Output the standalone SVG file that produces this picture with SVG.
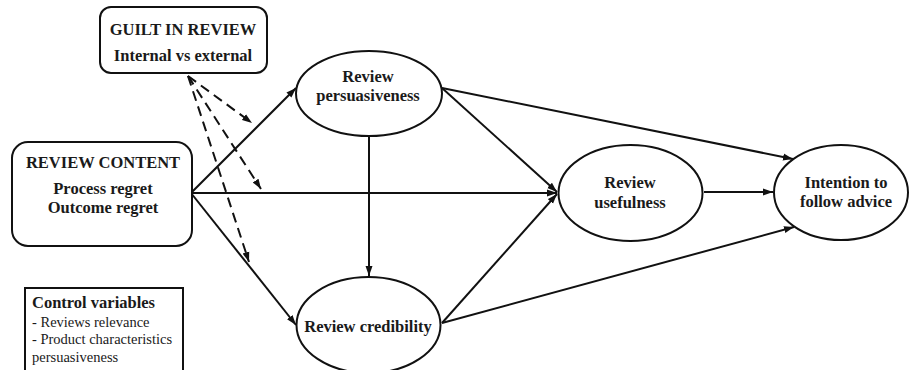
<svg xmlns="http://www.w3.org/2000/svg" width="909" height="370" viewBox="0 0 909 370">
<style>
.box{fill:#fff;stroke:#111;stroke-width:2}
.ell{fill:#fff;stroke:#111;stroke-width:2}
.t{font-family:"Liberation Serif","Times New Roman",serif;font-weight:bold;font-size:16.5px;fill:#1a1a1a;text-anchor:middle}
.r{font-family:"Liberation Serif","Times New Roman",serif;font-size:14.5px;fill:#1a1a1a}
.b{font-family:"Liberation Serif","Times New Roman",serif;font-weight:bold;font-size:16.5px;fill:#1a1a1a}
.ln{stroke:#111;stroke-width:2;fill:none;marker-end:url(#ah)}
.dl{stroke:#111;stroke-width:2;fill:none;stroke-dasharray:10 6;marker-end:url(#ah)}
</style>
<defs>
<marker id="ah" markerUnits="userSpaceOnUse" markerWidth="11" markerHeight="8" refX="10" refY="4" orient="auto">
<path d="M0,0.5 L10,4 L0,7.5 z" fill="#111"/>
</marker>
</defs>
<rect width="909" height="370" fill="#fff"/>
<g id="connectors">
<path class="ln" d="M191,193 L296,88"/>
<path class="ln" d="M191,193 L557,193"/>
<path class="ln" d="M191,193 L296,325"/>
<path class="ln" d="M369,136 L369,276"/>
<path class="ln" d="M442,88 L557,192"/>
<path class="ln" d="M442,88 L793,159"/>
<path class="ln" d="M442,323 L557,194"/>
<path class="ln" d="M442,323 L794,227"/>
<path class="ln" d="M704,192 L773,192"/>
<path class="dl" d="M188,76 L252,123"/>
<path class="dl" d="M188,76 L261,189"/>
<path class="dl" d="M188,76 L249,262"/>
</g>
<g id="guilt">
<rect class="box" x="100" y="7" width="167" height="66" rx="11"/>
<text class="t" x="183" y="35">GUILT IN REVIEW</text>
<text class="t" x="183" y="61">Internal vs external</text>
</g>
<g id="content">
<rect class="box" x="12" y="142" width="180" height="104" rx="16"/>
<text class="t" x="103" y="168">REVIEW CONTENT</text>
<text class="t" x="103" y="194">Process regret</text>
<text class="t" x="103" y="213">Outcome regret</text>
</g>
<g id="controls">
<rect class="box" x="25" y="288" width="158" height="86"/>
<text class="b" x="32" y="308">Control variables</text>
<text class="r" x="32" y="327">- Reviews relevance</text>
<text class="r" x="32" y="344">- Product characteristics</text>
<text class="r" x="32" y="362">persuasiveness</text>
</g>
<g id="persuasiveness">
<ellipse class="ell" cx="369" cy="93.5" rx="73" ry="42.5"/>
<text class="t" x="368" y="82">Review</text>
<text class="t" x="368" y="101">persuasiveness</text>
</g>
<g id="credibility">
<ellipse class="ell" cx="368.5" cy="325" rx="72" ry="48"/>
<text class="t" x="368" y="332">Review credibility</text>
</g>
<g id="usefulness">
<ellipse class="ell" cx="630.5" cy="193" rx="72" ry="48"/>
<text class="t" x="630" y="188">Review</text>
<text class="t" x="630" y="208">usefulness</text>
</g>
<g id="intention">
<ellipse class="ell" cx="841" cy="192.5" rx="67" ry="47.5"/>
<text class="t" x="846" y="188">Intention to</text>
<text class="t" x="846" y="207">follow advice</text>
</g>
</svg>
